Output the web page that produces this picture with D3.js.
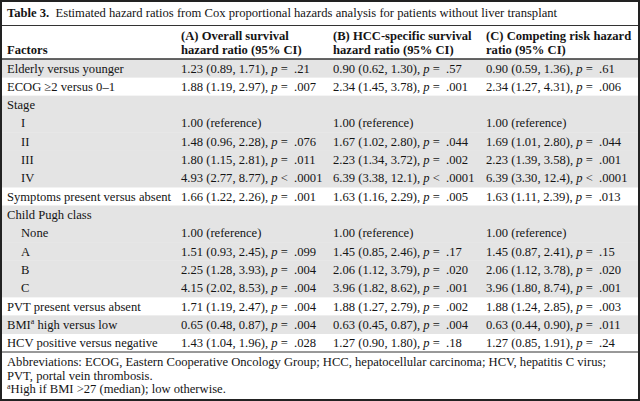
<!DOCTYPE html>
<html><head><meta charset="utf-8">
<script src="https://cdn.jsdelivr.net/npm/d3@7/dist/d3.min.js"></script>
<style>
html,body{margin:0;padding:0;background:#fff;}
svg text{font-family:"Liberation Serif","Times New Roman",serif;fill:#141414;}
</style></head>
<body><svg id="c" width="640" height="401"></svg>
<script>
// ---- data ----
const titleBold = "Table 3.";
const titleText = "Estimated hazard ratios from Cox proportional hazards analysis for patients without liver transplant";
const headerCols = [
  ["", "Factors"],
  ["(A) Overall survival", "hazard ratio (95% CI)"],
  ["(B) HCC-specific survival", "hazard ratio (95% CI)"],
  ["(C) Competing risk hazard", "ratio (95% CI)"]
];
const factors = ["Elderly versus younger","ECOG \u22652 versus 0\u20131","Stage","I","II","III","IV",
  "Symptoms present versus absent","Child Pugh class","None","A","B","C",
  "PVT present versus absent","BMI","HCV positive versus negative"];
const factorSup = [null,null,null,null,null,null,null,null,null,null,null,null,null,null,"a",null];
const factorSuffix = ["","","","","","","","","","","","","","", " high versus low",""];
const indent = [0,0,0,1,1,1,1,0,0,1,1,1,1,0,0,0];
const shaded = [1,0,1,1,1,1,1,0,1,1,1,1,1,0,1,0];
const estA = ["1.23 (0.89, 1.71)","1.88 (1.19, 2.97)",null,"1.00 (reference)","1.48 (0.96, 2.28)","1.80 (1.15, 2.81)","4.93 (2.77, 8.77)","1.66 (1.22, 2.26)",null,"1.00 (reference)","1.51 (0.93, 2.45)","2.25 (1.28, 3.93)","4.15 (2.02, 8.53)","1.71 (1.19, 2.47)","0.65 (0.48, 0.87)","1.43 (1.04, 1.96)"];
const pA   = ["= .21","= .007",null,null,"= .076","= .011","< .0001","= .001",null,null,"= .099","= .004","= .004","= .004","= .004","= .028"];
const estB = ["0.90 (0.62, 1.30)","2.34 (1.45, 3.78)",null,"1.00 (reference)","1.67 (1.02, 2.80)","2.23 (1.34, 3.72)","6.39 (3.38, 12.1)","1.63 (1.16, 2.29)",null,"1.00 (reference)","1.45 (0.85, 2.46)","2.06 (1.12, 3.79)","3.96 (1.82, 8.62)","1.88 (1.27, 2.79)","0.63 (0.45, 0.87)","1.27 (0.90, 1.80)"];
const pB   = ["= .57","= .001",null,null,"= .044","= .002","< .0001","= .005",null,null,"= .17","= .020","= .001","= .002","= .004","= .18"];
const estC = ["0.90 (0.59, 1.36)","2.34 (1.27, 4.31)",null,"1.00 (reference)","1.69 (1.01, 2.80)","2.23 (1.39, 3.58)","6.39 (3.30, 12.4)","1.63 (1.11, 2.39)",null,"1.00 (reference)","1.45 (0.87, 2.41)","2.06 (1.12, 3.78)","3.96 (1.80, 8.74)","1.88 (1.24, 2.85)","0.63 (0.44, 0.90)","1.27 (0.85, 1.91)"];
const pC   = ["= .61","= .006",null,null,"= .044","= .001","< .0001","= .013",null,null,"= .15","= .020","= .001","= .003","= .011","= .24"];
const footLines = [
  "Abbreviations: ECOG, Eastern Cooperative Oncology Group; HCC, hepatocellular carcinoma; HCV, hepatitis C virus;",
  "PVT, portal vein thrombosis."
];
const footSup = "a";
const footLast = "High if BMI >27 (median); low otherwise.";

// ---- layout ----
const W = 640, H = 401, FS = 12.6;
const svg = d3.select("#c");
const cols = ["f","a","b","c"];
const x = d3.scaleOrdinal().domain(cols).range([7, 181, 333, 486]);
const rowIdx = d3.range(factors.length);
const y = d3.scaleBand().domain(rowIdx).range([59, 352]).paddingInner(0).paddingOuter(0);

svg.append("rect").attr("x",1).attr("y",1).attr("width",W-2).attr("height",H-2)
  .attr("fill","#fff").attr("stroke","#222").attr("stroke-width",2);

// shading
svg.append("g").selectAll("rect").data(rowIdx.filter(i=>shaded[i])).join("rect")
  .attr("x",2).attr("width",W-4).attr("y",i=>y(i)).attr("height",y.bandwidth()+0.3)
  .attr("fill","#e4e4e4");

// title
const t = svg.append("text").attr("x",x("f")).attr("y",17).style("font-size",FS+"px");
t.append("tspan").attr("font-weight","bold").text(titleBold);
t.append("tspan").text("\u00a0 " + titleText);

// rules
function hline(yy, w){ svg.append("line").attr("x1",2).attr("x2",W-2).attr("y1",yy).attr("y2",yy).attr("stroke","#333").attr("stroke-width",w); }
hline(25.5,1); hline(59,1.5); hline(352,1);

// header
const hg = svg.append("g");
headerCols.forEach((lines,ci)=>{
  lines.forEach((ln,li)=>{
    if(!ln) return;
    hg.append("text").attr("x",x(cols[ci])).attr("y",40+li*14)
      .attr("font-weight","bold").style("font-size",FS+"px").text(ln);
  });
});

// body
const body = svg.append("g");
const baseOff = y.bandwidth()/2 + 4.4;
rowIdx.forEach(i=>{
  const yy = y(i)+baseOff;
  const ft = body.append("text").attr("x",x("f")+indent[i]*14).attr("y",yy).style("font-size",FS+"px");
  ft.append("tspan").text(factors[i]);
  if(factorSup[i]){ ft.append("tspan").attr("dy",-4.5).style("font-size","8px").text(factorSup[i]); ft.append("tspan").attr("dy",4.5).text(factorSuffix[i]); }
  [[estA,pA,"a"],[estB,pB,"b"],[estC,pC,"c"]].forEach(([e,p,c])=>{
    if(!e[i]) return;
    const tt = body.append("text").attr("x",x(c)).attr("y",yy).style("font-size",FS+"px");
    tt.append("tspan").text(e[i]);
    if(p[i]){
      tt.append("tspan").text(", ");
      tt.append("tspan").attr("font-style","italic").text("p");
      tt.append("tspan").text(" " + p[i].replace(" ", "\u00a0 "));
    }
  });
});

// footnote
footLines.forEach((ln,k)=>{
  svg.append("text").attr("x",x("f")).attr("y",366+k*13.5).style("font-size",FS+"px").text(ln);
});
const fl = svg.append("text").attr("x",x("f")).attr("y",366+2*13.5).style("font-size",FS+"px");
fl.append("tspan").attr("dy",-4.5).style("font-size","8px").text(footSup);
fl.append("tspan").attr("dy",4.5).text(footLast);
</script></body></html>
